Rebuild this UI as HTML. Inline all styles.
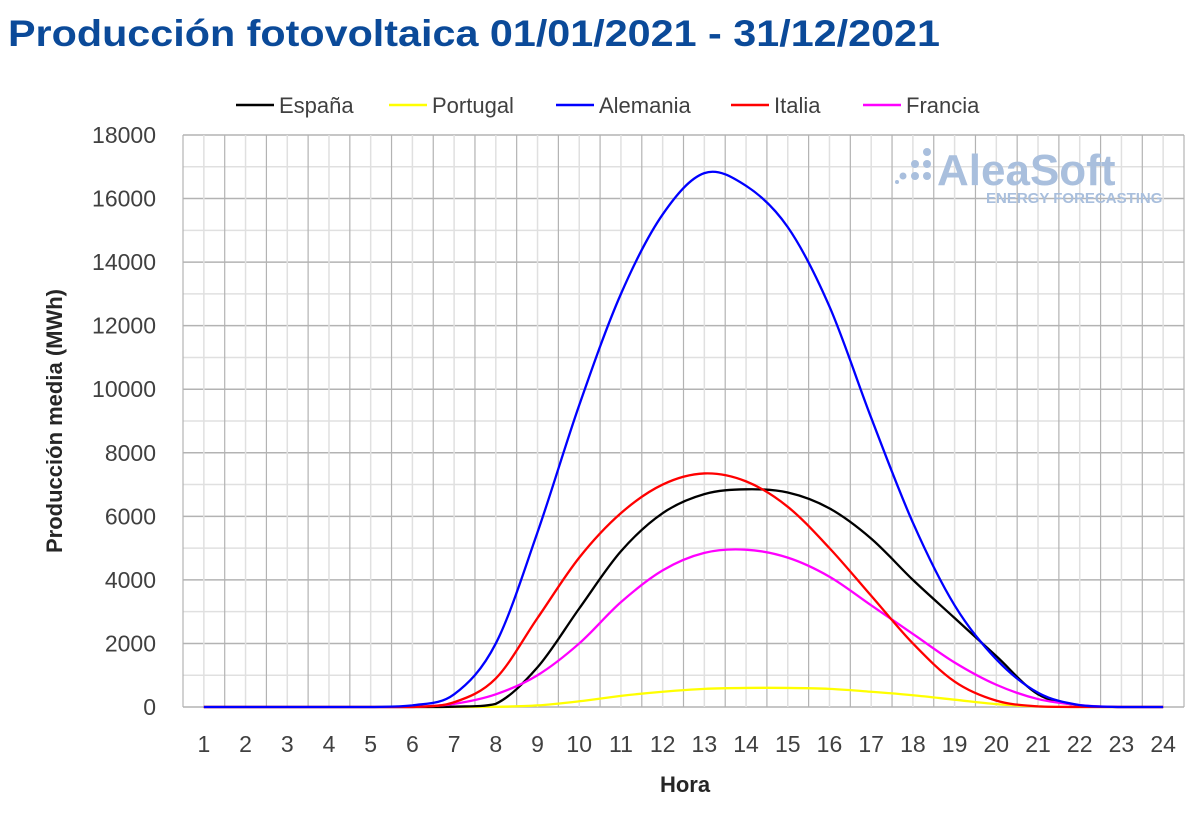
<!DOCTYPE html>
<html><head><meta charset="utf-8"><style>
body{margin:0;background:#fff;font-family:"Liberation Sans",sans-serif;}
svg text{font-family:"Liberation Sans",sans-serif;}
</style></head><body>
<svg id="c" width="1200" height="835" xmlns="http://www.w3.org/2000/svg">
<text x="8" y="46" font-size="37" font-weight="bold" fill="#0b4a99" textLength="932" lengthAdjust="spacingAndGlyphs">Producción fotovoltaica 01/01/2021 - 31/12/2021</text>
<g id="grid"></g>
<g id="wm" fill="#a9bfdd">
<circle cx="927" cy="152" r="4"/><circle cx="915" cy="164" r="4"/><circle cx="927" cy="164" r="4"/><circle cx="903" cy="176" r="3.5"/><circle cx="915" cy="176" r="4"/><circle cx="927" cy="176" r="4"/><circle cx="897" cy="182" r="2"/>
<text x="937" y="185" font-size="44" font-weight="bold" fill="#a9bfdd">AleaSoft</text>
<text x="986" y="203" font-size="15" font-weight="bold" fill="#a9bfdd">ENERGY FORECASTING</text>
</g>
<g id="axes"></g>
<g id="series"></g>
<g id="legend"></g>
<text transform="translate(62,421) rotate(-90)" text-anchor="middle" font-size="22" font-weight="bold" fill="#262626">Producción media (MWh)</text>
<text x="685" y="792" text-anchor="middle" font-size="22" font-weight="bold" fill="#262626">Hora</text>
</svg>
<script>
const hours=[1,2,3,4,5,6,7,8,9,10,11,12,13,14,15,16,17,18,19,20,21,22,23,24];
const yTicks=[0,2000,4000,6000,8000,10000,12000,14000,16000,18000];
const seriesNames=["España","Portugal","Alemania","Italia","Francia"];
const seriesColors=["#000000","#ffff00","#0000ff","#ff0000","#ff00ff"];
const espana=[0,0,0,0,0,0,10,100,1250,3100,4900,6100,6700,6850,6750,6250,5300,4000,2800,1600,400,50,0,0];
const portugal=[0,0,0,0,0,0,0,5,50,180,350,480,570,600,600,570,480,370,230,90,20,0,0,0];
const alemania=[0,0,0,0,0,50,400,2000,5500,9500,13000,15500,16800,16400,15100,12600,9100,5800,3200,1500,450,60,0,0];
const italia=[0,0,0,0,0,0,150,900,2800,4700,6100,7000,7350,7100,6300,5000,3500,2000,800,200,20,0,0,0];
const francia=[0,0,0,0,0,0,100,400,1000,2000,3300,4300,4850,4950,4700,4100,3200,2300,1400,700,250,60,0,0];
const allSeries=[espana,portugal,alemania,italia,francia];
const NS="http://www.w3.org/2000/svg";
const L=183,R=1184,T=135,B=707,bw=(R-L)/hours.length;
const x=i=>L+bw*(i+0.5);
const y=v=>B-(v/18000)*(B-T);
function mk(tag,attrs,parent){const e=document.createElementNS(NS,tag);for(const k in attrs)e.setAttribute(k,attrs[k]);parent.appendChild(e);return e;}
const grid=document.getElementById('grid'),axes=document.getElementById('axes'),ser=document.getElementById('series'),leg=document.getElementById('legend');
for(let v=0;v<=18000;v+=1000){const l=mk('line',{x1:L,x2:R,y1:y(v),y2:y(v),stroke:v%2000?'#e0e0e0':'#b3b3b3','stroke-width':1.5},grid);

}
for(let i=0;i<=hours.length;i++){const l=mk('line',{x1:L+bw*i,x2:L+bw*i,y1:T,y2:B,stroke:'#b3b3b3','stroke-width':1.2},grid);


if(i<hours.length){const m=mk('line',{x1:x(i),x2:x(i),y1:T,y2:B,stroke:'#e0e0e0','stroke-width':1.5},grid);

}}
yTicks.forEach(v=>{const t=mk('text',{x:156,y:y(v)+8,'text-anchor':'end','font-size':23,fill:'#404040'},axes);t.textContent=v;

});
hours.forEach((h,i)=>{const t=mk('text',{x:x(i),y:752,'text-anchor':'middle','font-size':23,fill:'#404040'},axes);t.textContent=h;

});
function pathFor(d){const p=d.map((v,i)=>[x(i),y(v)]);let s=`M${p[0][0]},${p[0][1]}`;
for(let i=0;i<p.length-1;i++){const p0=p[Math.max(0,i-1)],p1=p[i],p2=p[i+1],p3=p[Math.min(p.length-1,i+2)];
const c1=[p1[0]+(p2[0]-p0[0])/6,p1[1]+(p2[1]-p0[1])/6],c2=[p2[0]-(p3[0]-p1[0])/6,p2[1]-(p3[1]-p1[1])/6];
s+=` C${c1[0]},${Math.min(c1[1],B)} ${c2[0]},${Math.min(c2[1],B)} ${p2[0]},${p2[1]}`;}return s;}
[1,0,4,3,2].forEach(k=>{const p=mk('path',{d:pathFor(allSeries[k]),fill:'none',stroke:seriesColors[k],'stroke-width':2.3},ser);

});
const lx=[236,389,556,731,863];
seriesNames.forEach((n,k)=>{const g=mk('g',{},leg);


mk('line',{x1:lx[k],x2:lx[k]+38,y1:105,y2:105,stroke:seriesColors[k],'stroke-width':2.5},g);
const t=mk('text',{x:lx[k]+43,y:113,'font-size':22,fill:'#404040'},g);t.textContent=n;});
</script>
</body></html>
